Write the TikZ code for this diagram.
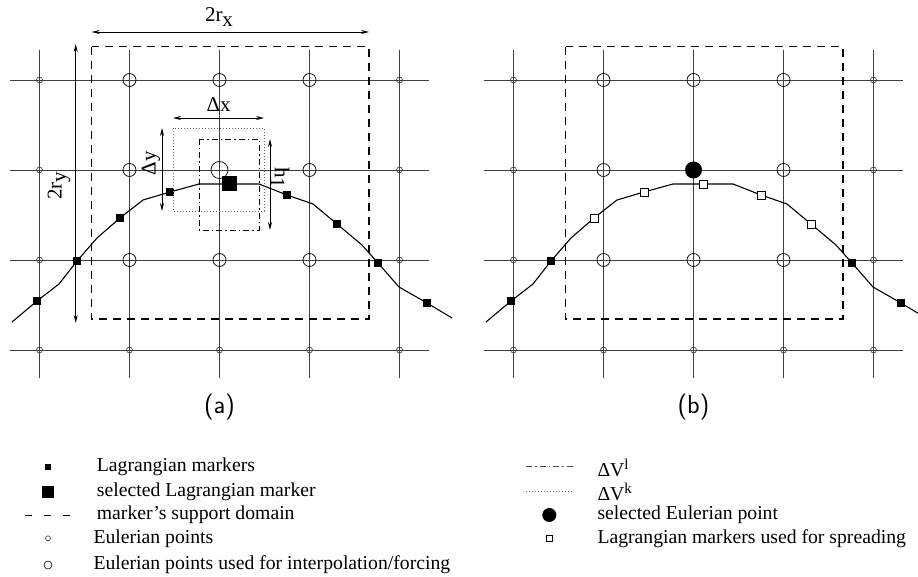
\documentclass[tikz,border=0pt]{standalone}
\usepackage{fontspec}
\setmainfont{Liberation Serif}
\usetikzlibrary{positioning, arrows.meta}
\tikzset{
	gridline/.style={draw=black!75, line width=0.8pt},
	curveline/.style={draw=black, line width=1.1pt, line join=round},
	supportbox/.style={draw=black, line width=1.1pt, dash pattern=on 8pt off 6pt},
	volk/.style={draw=black!60, line width=0.8pt, dash pattern=on 1pt off 2pt},
	voll/.style={draw=black, line width=0.9pt, dash pattern=on 6pt off 3pt on 1.5pt off 3pt},
	dimarr/.style={{Stealth[length=8pt,width=4pt]}-{Stealth[length=8pt,width=4pt]}, line width=0.8pt},
	eulpt/.style={circle, draw=black!80, line width=0.6pt, minimum size=6pt, inner sep=0pt},
	eulbig/.style={circle, draw=black, line width=0.7pt, minimum size=13pt, inner sep=0pt},
	lagmark/.style={rectangle, fill=black, minimum size=8pt, inner sep=0pt},
	lagopen/.style={rectangle, draw=black, fill=white, line width=0.7pt, minimum size=8pt, inner sep=0pt},
	dimlabel/.style={font=\fontsize{21}{21}\selectfont, inner sep=0pt},
	legtext/.style={anchor=west, font=\fontsize{19.7}{20}\selectfont, inner sep=0pt}
}
\newcommand{\supk}[1]{\raisebox{0.75ex}{\fontsize{15}{15}\selectfont #1}}
\begin{document}
\begin{tikzpicture}[x=1pt, y=-1pt]
	\useasboundingbox (0,0) rectangle (918,577);

	% grids of both panels
	\foreach \p/\dx in {a/0, b/474} {
		\begin{scope}[xshift=\dx pt]
			\foreach \i in {0,...,3}
				\draw[gridline] (10,80+90*\i) -- (429,80+90*\i);
			\foreach \i in {0,...,4}
				\draw[gridline] (39.5+90*\i,50) -- (39.5+90*\i,378);
			% outer Eulerian points
			\foreach \i in {0,4}
				\foreach \j in {0,...,3}
					\node[eulpt] (\p e\i\j) at (39.5+90*\i,80+90*\j) {};
			\foreach \i in {1,2,3}
				\node[eulpt] (\p e\i3) at (39.5+90*\i,350) {};
			% points used for interpolation
			\foreach \i/\j in {1/0, 2/0, 3/0, 1/1, 3/1, 1/2, 2/2, 3/2}
				\node[eulbig] (\p E\i\j) at (39.5+90*\i,80+90*\j) {};
			\draw[supportbox] (91.7,46.7) rectangle (369,319);
			\draw[curveline] (12,322) -- (37,301) -- (59,284) -- (77,261) -- (97,238)
				-- (120,218) -- (143,200) -- (170,192) -- (199,184) -- (259,184)
				-- (287,195) -- (313,204) -- (337,224) -- (362,245) -- (378,263)
				-- (399,287) -- (427,303) -- (452,318);
		\end{scope}
	}

	% panel (a)
	\node[eulbig, minimum size=17pt] (selE) at (219.5,170) {};
	\foreach \n/\x/\y in {m1/37/301, m2/77/261, m3/120/218, m4/170/192,
			m6/287/195, m7/337/224, m8/378/263, m9/427/303}
		\node[lagmark] (a\n) at (\x,\y) {};
	\node[lagmark, minimum size=15pt] (selL) at (229,184) {};
	\draw[volk] (173,128) rectangle (264,211);
	\draw[voll] (199,139) rectangle (259,230);

	\coordinate (rxl) at (91.7,32);  \coordinate (rxr) at (369,32);
	\coordinate (ryt) at (75.7,44);  \coordinate (ryb) at (75.7,323);
	\coordinate (dxl) at (173,118);  \coordinate (dxr) at (264,118);
	\coordinate (dyt) at (162,128);  \coordinate (dyb) at (162,211);
	\coordinate (h1t) at (270,139);  \coordinate (h1b) at (270,230);
	\foreach \a/\b in {rxl/rxr, ryt/ryb, dxl/dxr, dyt/dyb, h1t/h1b}
		\draw[dimarr] (\a) -- (\b);
	\node[dimlabel] (lrx) at (219,17) {2r\raisebox{-0.45ex}{x}};
	\node[dimlabel, rotate=90] (lry) at (59,186) {2r\raisebox{-0.45ex}{y}};
	\node[dimlabel] (ldx) at (218.5,105) {Δx};
	\node[dimlabel, rotate=90] (ldy) at (151,163) {Δy};
	\node[dimlabel, rotate=-90] (lh1) at (280,178) {h\raisebox{-0.45ex}{1}};
	\node[font=\sffamily\fontsize{26}{26}\selectfont] (capa) at (219.5,407) {(a)};

	% panel (b)
	\node[circle, fill=black, minimum size=17pt, inner sep=0pt] (selEb) at (693.5,170) {};
	\foreach \n/\x/\y in {m1/511/301, m2/551/261, m8/852/263, m9/901/303}
		\node[lagmark] (b\n) at (\x,\y) {};
	\foreach \n/\x/\y in {m3/594/218, m4/644/192, m5/703/184, m6/761/195, m7/811/224}
		\node[lagopen] (b\n) at (\x,\y) {};
	\node[font=\sffamily\fontsize{26}{26}\selectfont] (capb) at (693.5,407) {(b)};

	% legend
	\node[lagmark, minimum size=6pt] (k1) at (48,467) {};
	\node[legtext] (t1) at (96.7,467) {Lagrangian markers};
	\node[lagmark, minimum size=12pt] (k2) at (48,491.7) {};
	\node[legtext] (t2) at (96.7,491.7) {selected Lagrangian marker};
	\coordinate (k3a) at (25,515); \coordinate (k3b) at (70,515);
	\draw[line width=0.8pt, dash pattern=on 7pt off 12pt] (k3a) -- (k3b);
	\node[legtext] (t3) at (96.7,515) {marker’s support domain};
	\node[eulpt, minimum size=5pt] (k4) at (48,538.3) {};
	\node[legtext] (t4) at (93.3,538.3) {Eulerian points};
	\node[eulpt, minimum size=8pt, draw=black] (k5) at (48,565) {};
	\node[legtext] (t5) at (93.3,565) {Eulerian points used for interpolation/forcing};

	\coordinate (k6a) at (526,466.7); \coordinate (k6b) at (573.3,466.7);
	\draw[voll, line width=0.7pt, draw=black!70] (k6a) -- (k6b);
	\node[legtext] (t6) at (597.3,468) {ΔV\supk{l}};
	\coordinate (k7a) at (526,491); \coordinate (k7b) at (573.3,491);
	\draw[volk] (k7a) -- (k7b);
	\node[legtext] (t7) at (597.3,492) {ΔV\supk{k}};
	\node[circle, fill=black, minimum size=14pt, inner sep=0pt] (k8) at (549.3,515) {};
	\node[legtext] (t8) at (597.3,515) {selected Eulerian point};
	\node[lagopen, minimum size=6pt, line width=0.6pt] (k9) at (549.3,538.3) {};
	\node[legtext] (t9) at (597.3,538.3) {Lagrangian markers used for spreading};
\end{tikzpicture}
\end{document}
